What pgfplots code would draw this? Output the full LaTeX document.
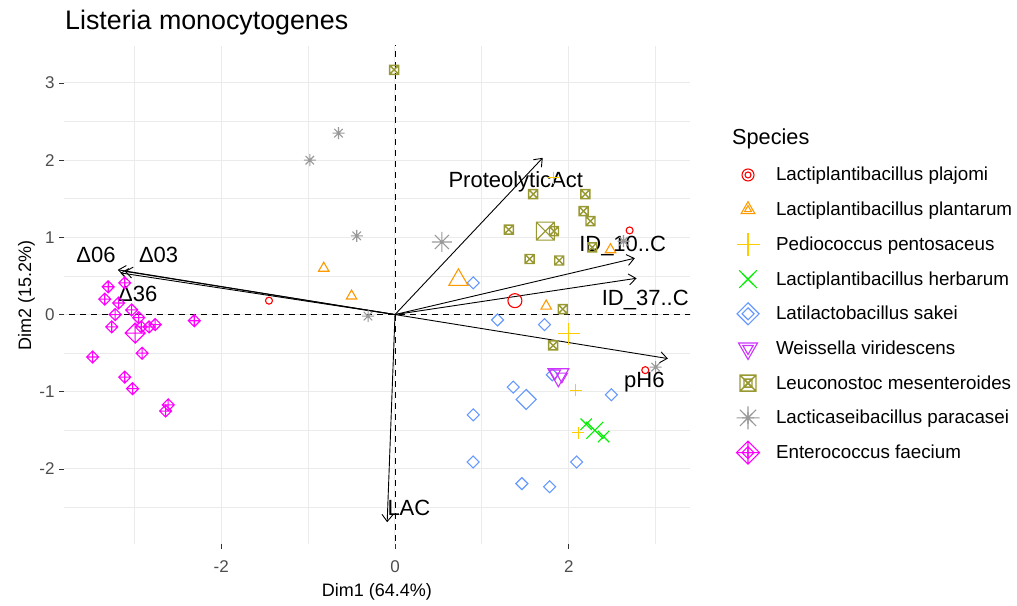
\documentclass[border=0pt]{standalone}
\usepackage{fontspec}
\setmainfont{Liberation Sans}
\usepackage{pgfplots}
\pgfplotsset{compat=1.18}
\usetikzlibrary{arrows.meta}

\definecolor{cPla}{HTML}{FF0000}
\definecolor{cPlan}{HTML}{FF9900}
\definecolor{cPed}{HTML}{FFCC00}
\definecolor{cHer}{HTML}{00EE00}
\definecolor{cSak}{HTML}{6699FF}
\definecolor{cWei}{HTML}{CC33FF}
\definecolor{cLeu}{HTML}{999933}
\definecolor{cPar}{HTML}{999999}
\definecolor{cEnt}{HTML}{FF00FF}
\definecolor{gridc}{HTML}{EBEBEB}
\definecolor{tickc}{HTML}{4D4D4D}

\newcommand\titlefont{\fontsize{26.8bp}{30bp}\selectfont}
\newcommand\legfont{\fontsize{18.8bp}{21bp}\selectfont}
\newcommand\legtitlefont{\fontsize{21.7bp}{25bp}\selectfont}
\newcommand\tickfont{\fontsize{17bp}{20bp}\selectfont}
\newcommand\labfont{\fontsize{18bp}{21bp}\selectfont}
\newcommand\varfont{\fontsize{22bp}{25bp}\selectfont}

% R-like marks
\pgfdeclareplotmark{rdiam}{%
 \pgfpathmoveto{\pgfqpoint{0pt}{\pgfplotmarksize}}%
 \pgfpathlineto{\pgfqpoint{\pgfplotmarksize}{0pt}}%
 \pgfpathlineto{\pgfqpoint{0pt}{-\pgfplotmarksize}}%
 \pgfpathlineto{\pgfqpoint{-\pgfplotmarksize}{0pt}}%
 \pgfpathclose\pgfusepathqstroke}
\pgfdeclareplotmark{dplus}{%
 \pgfpathmoveto{\pgfqpoint{0pt}{\pgfplotmarksize}}%
 \pgfpathlineto{\pgfqpoint{\pgfplotmarksize}{0pt}}%
 \pgfpathlineto{\pgfqpoint{0pt}{-\pgfplotmarksize}}%
 \pgfpathlineto{\pgfqpoint{-\pgfplotmarksize}{0pt}}%
 \pgfpathclose
 \pgfpathmoveto{\pgfqpoint{0pt}{\pgfplotmarksize}}%
 \pgfpathlineto{\pgfqpoint{0pt}{-\pgfplotmarksize}}%
 \pgfpathmoveto{\pgfqpoint{-\pgfplotmarksize}{0pt}}%
 \pgfpathlineto{\pgfqpoint{\pgfplotmarksize}{0pt}}%
 \pgfusepathqstroke}
\pgfdeclareplotmark{sqx}{%
 \pgfpathmoveto{\pgfqpoint{-\pgfplotmarksize}{-\pgfplotmarksize}}%
 \pgfpathlineto{\pgfqpoint{\pgfplotmarksize}{-\pgfplotmarksize}}%
 \pgfpathlineto{\pgfqpoint{\pgfplotmarksize}{\pgfplotmarksize}}%
 \pgfpathlineto{\pgfqpoint{-\pgfplotmarksize}{\pgfplotmarksize}}%
 \pgfpathclose
 \pgfpathmoveto{\pgfqpoint{-\pgfplotmarksize}{-\pgfplotmarksize}}%
 \pgfpathlineto{\pgfqpoint{\pgfplotmarksize}{\pgfplotmarksize}}%
 \pgfpathmoveto{\pgfqpoint{-\pgfplotmarksize}{\pgfplotmarksize}}%
 \pgfpathlineto{\pgfqpoint{\pgfplotmarksize}{-\pgfplotmarksize}}%
 \pgfusepathqstroke}
\pgfdeclareplotmark{rast}{%
 \pgfpathmoveto{\pgfqpoint{0pt}{\pgfplotmarksize}}%
 \pgfpathlineto{\pgfqpoint{0pt}{-\pgfplotmarksize}}%
 \pgfpathmoveto{\pgfqpoint{-\pgfplotmarksize}{0pt}}%
 \pgfpathlineto{\pgfqpoint{\pgfplotmarksize}{0pt}}%
 \pgfpathmoveto{\pgfqpoint{-.7071\pgfplotmarksize}{-.7071\pgfplotmarksize}}%
 \pgfpathlineto{\pgfqpoint{.7071\pgfplotmarksize}{.7071\pgfplotmarksize}}%
 \pgfpathmoveto{\pgfqpoint{-.7071\pgfplotmarksize}{.7071\pgfplotmarksize}}%
 \pgfpathlineto{\pgfqpoint{.7071\pgfplotmarksize}{-.7071\pgfplotmarksize}}%
 \pgfusepathqstroke}
\pgfdeclareplotmark{dtri}{%
 \pgfpathmoveto{\pgfqpoint{0pt}{-\pgfplotmarksize}}%
 \pgfpathlineto{\pgfqpoint{.866\pgfplotmarksize}{.5\pgfplotmarksize}}%
 \pgfpathlineto{\pgfqpoint{-.866\pgfplotmarksize}{.5\pgfplotmarksize}}%
 \pgfpathclose\pgfusepathqstroke}

\pgfplotsset{
 sPla/.style={only marks, mark=o, color=cPla, line width=1.1bp},
 sPlan/.style={only marks, mark=triangle, color=cPlan, line width=1.1bp},
 sPed/.style={only marks, mark=+, color=cPed, line width=1.1bp},
 sHer/.style={only marks, mark=x, color=cHer, line width=1.1bp},
 sSak/.style={only marks, mark=rdiam, color=cSak, line width=1.1bp},
 sWei/.style={only marks, mark=dtri, color=cWei, line width=1.1bp},
 sLeu/.style={only marks, mark=sqx, color=cLeu, line width=1.4bp},
 sPar/.style={only marks, mark=rast, color=cPar, line width=1.1bp},
 sEnt/.style={only marks, mark=dplus, color=cEnt, line width=1.1bp},
 leg/.style 2 args={legend image code/.code={%
   \path[draw=none,fill=none] (-6bp,-14bp) rectangle (22bp,14bp);
   \draw[##1,mark size=#1] plot coordinates {(8bp,0bp)};
   \draw[##1,mark size=#2] plot coordinates {(8bp,0bp)};}},
 varrow/.style={black, line width=0.9bp, -{Straight Barb[length=7bp,width=11bp]}, forget plot},
}

\begin{document}
\begin{tikzpicture}[x=1bp,y=1bp]
\useasboundingbox (0,0) rectangle (1017,606);
\begin{axis}[
 at={(64bp,62bp)}, anchor=south west, scale only axis,
 width=626bp, height=498bp,
 xmin=-3.809, xmax=3.395, ymin=-2.972, ymax=3.479,
 xtick={-2,0,2}, ytick={-2,-1,0,1,2,3},
 minor xtick={-3,-1,1,3}, minor ytick={-2.5,-1.5,-0.5,0.5,1.5,2.5},
 grid=both,
 major grid style={gridc, line width=1bp},
 minor grid style={gridc, line width=0.9bp},
 axis line style={draw=none},
 tick align=outside, tick pos=left,
 major tick length=5bp, minor tick length=0pt,
 tick style={color=black!80, line width=0.8bp},
 ticklabel style={font=\tickfont, text=tickc},
 xticklabel style={yshift=-8bp},
 yticklabel style={xshift=-1bp},
 /pgf/number format/assume math mode=true,
 legend cell align=left,
 legend style={at={(1.0703,0.7691)}, anchor=north west, draw=none, fill=none,
   inner sep=0pt, outer sep=0pt, row sep=6.7bp, column sep=14bp, font=\legfont,
   nodes={inner sep=0pt, text height=20bp, text depth=8bp}},
]
% zero lines
\addplot[black, line width=0.8bp, dash pattern=on 6bp off 5bp, forget plot] coordinates {(0,-3.5) (0,3.6)};
\addplot[black, line width=0.8bp, dash pattern=on 6bp off 5bp, forget plot] coordinates {(-4,0) (3.5,0)};

% individuals
\addplot[sPla, mark size=3.5bp, forget plot] coordinates {(-1.45,0.18) (2.70,1.09) (2.88,-0.72)};
\addplot[sPlan, mark size=6bp, forget plot] coordinates {(-0.82,0.60) (-0.50,0.24) (1.74,0.11) (2.48,0.84)};
\addplot[sPed, mark size=6bp, forget plot] coordinates {(1.82,1.77) (2.08,-0.98) (2.11,-1.53)};
\addplot[sHer, mark size=8bp, forget plot] coordinates {(2.20,-1.42) (2.40,-1.58)};
\addplot[sSak, mark size=6bp, forget plot] coordinates {(0.90,0.41) (1.18,-0.07) (1.72,-0.13) (1.36,-0.94) (1.81,-0.78) (2.49,-1.04) (0.90,-1.30) (0.90,-1.91) (2.09,-1.91) (1.46,-2.19) (1.78,-2.23)};
\addplot[sWei, mark size=6.5bp, forget plot] coordinates {(1.84,-0.76) (1.92,-0.80)};
\addplot[sLeu, mark size=4.5bp, forget plot] coordinates {(-0.01,3.17) (1.59,1.56) (2.19,1.56) (2.17,1.34) (2.25,1.21) (1.31,1.10) (1.83,1.08) (1.55,0.72) (1.89,0.70) (2.27,0.87) (1.93,0.07) (1.82,-0.40)};
\addplot[sPar, mark size=6bp, forget plot] coordinates {(-0.98,2.00) (-0.65,2.35) (-0.44,1.02) (-0.31,-0.02) (2.63,0.95) (3.00,-0.68)};
\addplot[sEnt, mark size=6bp, forget plot] coordinates {(-3.30,0.36) (-3.34,0.20) (-3.11,0.41) (-3.18,0.15) (-3.03,0.06) (-3.22,0.00) (-2.95,-0.04) (-3.26,-0.16) (-2.92,-0.16) (-2.83,-0.16) (-2.76,-0.13) (-2.31,-0.08) (-2.91,-0.50) (-3.48,-0.55) (-3.11,-0.81) (-3.02,-0.96) (-2.61,-1.17) (-2.64,-1.25)};

% group means
\addplot[sPla, mark size=7bp, forget plot] coordinates {(1.38,0.18)};
\addplot[sPlan, mark size=11bp, forget plot] coordinates {(0.73,0.45)};
\addplot[sPed, mark size=11bp, forget plot] coordinates {(2.00,-0.25)};
\addplot[sHer, mark size=12bp, forget plot] coordinates {(2.30,-1.50)};
\addplot[sSak, mark size=10bp, forget plot] coordinates {(1.51,-1.10)};
\addplot[sWei, mark size=12bp, forget plot] coordinates {(1.88,-0.78)};
\addplot[sLeu, mark size=9bp, line width=1.1bp, forget plot] coordinates {(1.73,1.08)};
\addplot[sPar, mark size=10bp, forget plot] coordinates {(0.54,0.94)};
\addplot[sEnt, mark size=10bp, forget plot] coordinates {(-2.99,-0.24)};

% variables
\addplot[varrow] coordinates {(0,0) (1.70,2.03)};
\addplot[varrow] coordinates {(0,0) (2.76,0.73)};
\addplot[varrow] coordinates {(0,0) (2.78,0.47)};
\addplot[varrow] coordinates {(0,0) (3.14,-0.57)};
\addplot[varrow] coordinates {(0,0) (-0.09,-2.69)};
\addplot[varrow] coordinates {(0,0) (-3.19,0.58)};
\addplot[varrow] coordinates {(0,0) (-3.11,0.56)};
\addplot[varrow] coordinates {(0,0) (-3.16,0.54)};

\node[font=\varfont, text height=15bp, text depth=0pt, inner sep=0pt] at (axis cs:1.39,1.74) {ProteolyticAct};
\node[font=\varfont, text height=15bp, text depth=0pt, inner sep=0pt] at (axis cs:2.62,0.92) {ID\_10..C};
\node[font=\varfont, text height=15bp, text depth=0pt, inner sep=0pt] at (axis cs:2.88,0.21) {ID\_37..C};
\node[font=\varfont, text height=15bp, text depth=0pt, inner sep=0pt] at (axis cs:2.87,-0.85) {pH6};
\node[font=\varfont, text height=15bp, text depth=0pt, inner sep=0pt] at (axis cs:0.16,-2.51) {LAC};
\node[font=\varfont, text height=15bp, text depth=0pt, inner sep=0pt] at (axis cs:-3.44,0.77) {Δ06};
\node[font=\varfont, text height=15bp, text depth=0pt, inner sep=0pt] at (axis cs:-2.72,0.77) {Δ03};
\node[font=\varfont, text height=15bp, text depth=0pt, inner sep=0pt] at (axis cs:-2.96,0.26) {Δ36};

% legend
\addlegendimage{sPla, leg={3bp}{6bp}}\addlegendentry{Lactiplantibacillus plajomi}
\addlegendimage{sPlan, leg={4bp}{8bp}}\addlegendentry{Lactiplantibacillus plantarum}
\addlegendimage{sPed, leg={6bp}{11.5bp}}\addlegendentry{Pediococcus pentosaceus}
\addlegendimage{sHer, leg={8bp}{12.5bp}}\addlegendentry{Lactiplantibacillus herbarum}
\addlegendimage{sSak, leg={6bp}{11bp}}\addlegendentry{Latilactobacillus sakei}
\addlegendimage{sWei, leg={6bp}{11bp}}\addlegendentry{Weissella viridescens}
\addlegendimage{sLeu, leg={4bp}{8bp}}\addlegendentry{Leuconostoc mesenteroides}
\addlegendimage{sPar, leg={6bp}{11.5bp}}\addlegendentry{Lacticaseibacillus paracasei}
\addlegendimage{sEnt, leg={6bp}{11.5bp}}\addlegendentry{Enterococcus faecium}
\end{axis}
\node[anchor=base west, font=\titlefont, inner sep=0pt] at (65,576) {Listeria monocytogenes};
\node[anchor=base, font=\labfont, inner sep=0pt] at (377,9) {Dim1 (64.4\%)};
\node[anchor=base, rotate=90, font=\labfont, inner sep=0pt] at (31,311) {Dim2 (15.2\%)};
\node[anchor=base west, font=\legtitlefont, inner sep=0pt] at (732,461) {Species};
\end{tikzpicture}
\end{document}
